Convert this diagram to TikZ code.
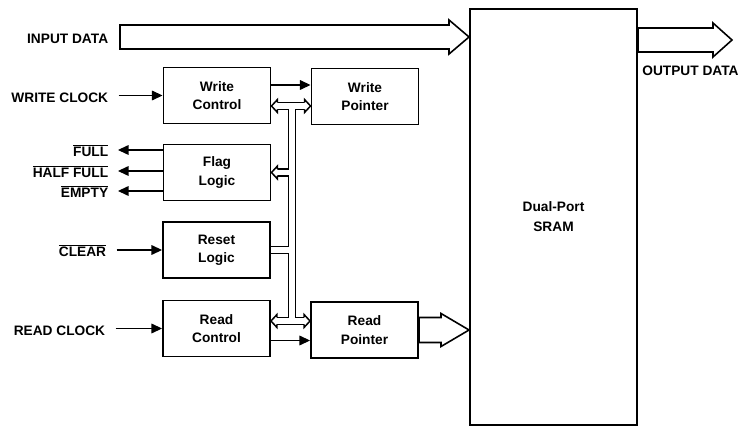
\documentclass[tikz,border=0pt]{standalone}
\usepackage{fontspec}
\setmainfont{Liberation Sans}
\usetikzlibrary{arrows.meta,calc}
\tikzset{
  block/.style={draw, line width=1.1pt, minimum width=2.14cm, minimum height=1.12cm, align=center, inner sep=0pt, font=\fontsize{7.8}{10.5}\selectfont\bfseries},
  lbl/.style={anchor=east, inner sep=0pt, text height=1.5ex, text depth=0pt, font=\fontsize{7.8}{9}\selectfont\bfseries},
  sig/.style={line width=0.65pt, -{Triangle[length=6pt,width=5.5pt]}},
  fat/.style={line width=0.9pt, fill=white, line join=miter},
  busout/.style={line width=0.17cm, black},
  busin/.style={line width=0.11cm, white},
  pics/bushead/.style={code={\filldraw[fill=white, line width=0.85pt] (0.12,0.07) -- (0.12,0.13) -- (0,0) -- (0.12,-0.13) -- (0.12,-0.07);}}
}
\newcommand\fatarrow[5]{%
  \draw[fat] let \p1=(#1), \p2=(#2) in
    (\x1,\y1+#3) -- (\x2-#5,\y1+#3) -- (\x2-#5,\y1+#4) -- (\x2,\y1)
    -- (\x2-#5,\y1-#4) -- (\x2-#5,\y1-#3) -- (\x1,\y1-#3) -- cycle;}
\newcommand\buspaths[1]{%
  \draw[#1] ([xshift=0.12cm]wbus -| wc.east) -- ([xshift=-0.12cm]wbus -| wp.west);
  \draw[#1] ([xshift=0.12cm]rbus -| rc.east) -- ([xshift=-0.12cm]rbus -| rp.west);
  \draw[#1] (wbus) -- (rbus);
  \draw[#1] (wbus |- fl.east) -- ([xshift=0.12cm]fl.east);
  \draw[#1] (wbus |- rl.east) -- (rl.east);}
\begin{document}
\begin{tikzpicture}
\useasboundingbox (0,0) rectangle (14.98,-8.58);
\node[draw, line width=1.1pt, minimum width=3.34cm, minimum height=8.32cm, align=center, font=\fontsize{7.8}{11.4}\selectfont\bfseries] (sram) at (11.07,-4.34) {Dual-Port\\SRAM};
\node[block] (wc) at (4.34,-1.91) {Write\\Control};
\node[block] (wp) at (7.30,-1.93) {Write\\Pointer};
\node[block] (fl) at (4.34,-3.45) {Flag\\Logic};
\node[block] (rl) at (4.33,-5.00) {Reset\\Logic};
\node[block] (rc) at (4.33,-6.57) {Read\\Control};
\node[block] (rp) at (7.29,-6.60) {Read\\Pointer};
\coordinate (wbus) at (5.84,-2.12);
\coordinate (rbus) at (5.84,-6.42);
\coordinate (outtip) at (14.64,-0.80);
\node[lbl] (indata) at (2.17,-0.74) {INPUT DATA};
\node[lbl] (wclk) at (2.17,-1.91) {WRITE CLOCK};
\node[lbl] (full) at (2.17,-3.00) {$\overline{\mbox{FULL}}$};
\node[lbl] (half) at (2.17,-3.42) {$\overline{\mbox{HALF FULL}}$};
\node[lbl] (empty) at (2.17,-3.82) {$\overline{\mbox{EMPTY}}$};
\node[lbl] (clr) at (2.13,-5.00) {$\overline{\mbox{CLEAR}}$};
\node[lbl] (rclk) at (2.11,-6.57) {READ CLOCK};
\node[lbl, anchor=west] (outdata) at (12.84,-1.37) {OUTPUT DATA};
\fatarrow{[xshift=0.23cm]indata.east}{indata -| sram.west}{0.24cm}{0.34cm}{0.40cm}
\fatarrow{outtip -| sram.east}{outtip}{0.24cm}{0.34cm}{0.38cm}
\fatarrow{rp.east}{rp.east -| sram.west}{0.25cm}{0.33cm}{0.56cm}
\draw[sig] ([xshift=0.2cm]wclk.east) -- (wclk -| wc.west);
\draw[sig] ([xshift=0.2cm]clr.east) -- (clr -| rl.west);
\draw[sig] ([xshift=0.2cm]rclk.east) -- (rclk -| rc.west);
\draw[sig] (full -| fl.west) -- ([xshift=0.19cm]full.east);
\draw[sig] (half -| fl.west) -- ([xshift=0.19cm]half.east);
\draw[sig] (empty -| fl.west) -- ([xshift=0.19cm]empty.east);
\draw[sig] ([yshift=0.21cm]wc.east) -- ([yshift=0.21cm]wc.east -| wp.west);
\draw[sig] ([yshift=-0.24cm]rc.east) -- ([yshift=-0.24cm]rc.east -| rp.west);
\buspaths{busout}
\buspaths{busin}
\path (wbus -| wc.east) pic {bushead};
\path (wbus -| wp.west) pic[xscale=-1] {bushead};
\path (rbus -| rc.east) pic {bushead};
\path (rbus -| rp.west) pic[xscale=-1] {bushead};
\path (fl.east) pic {bushead};
\end{tikzpicture}
\end{document}
